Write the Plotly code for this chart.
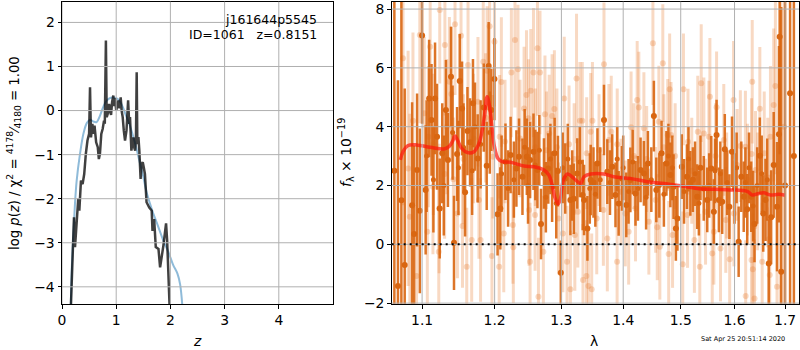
import plotly.graph_objects as go

# ---------------- left panel: log p(z) ----------------
pz_z = [0.16, 0.221, 0.24, 0.27, 0.30, 0.32, 0.35, 0.38, 0.41, 0.44,
        0.47, 0.50, 0.517, 0.535, 0.56, 0.58, 0.60, 0.63, 0.66, 0.68,
        0.70, 0.725, 0.75, 0.775, 0.79, 0.81, 0.825, 0.85, 0.87, 0.886,
        0.905, 0.925, 0.947, 0.965, 0.98, 1.0, 1.02, 1.04, 1.06, 1.083,
        1.1, 1.12, 1.14, 1.163, 1.19, 1.205, 1.22, 1.24, 1.255, 1.27,
        1.28, 1.30, 1.316, 1.335, 1.35, 1.365, 1.378, 1.39, 1.41, 1.427,
        1.45, 1.47, 1.49, 1.51, 1.53, 1.56, 1.61, 1.655, 1.67, 1.70,
        1.73, 1.78, 1.81, 1.87, 1.92, 1.94, 1.97, 1.99]
pz_log = [-4.6, -2.42, -3.1, -2.58, -2.0, -2.27, -1.59, -1.67, -1.44, -0.98,
          -0.68, -0.53, 0.53, -0.61, -0.3, -0.53, -0.34, -0.72, -0.83, -1.1,
          -0.98, -0.53, -0.42, -0.23, -0.3, 1.59, -0.15, -0.05, 0.15, 0.0,
          -0.1, 0.2, 0.34, 0.1, 0.28, 0.0, 0.15, 0.23, 0.05, 0.3,
          0.0, -0.15, -0.45, -0.68, -0.45, -0.1, 0.23, -0.3, -0.15, -0.61,
          -0.91, -0.7, -0.61, -0.85, -0.91, -0.6, 0.87, -0.76, -0.6, -0.91,
          -1.55, -1.21, -1.17, -1.3, -1.44, -2.08, -2.2, -2.27, -2.73, -2.46,
          -3.1, -3.14, -3.56, -3.07, -2.56, -2.95, -3.71, -4.6]

prior_z = [0.16, 0.18, 0.21, 0.24, 0.27, 0.33, 0.40, 0.46, 0.52, 0.58,
           0.64, 0.70, 0.76, 0.82, 0.90, 0.97, 1.04, 1.10, 1.17, 1.255,
           1.35, 1.44, 1.50, 1.56, 1.66, 1.75, 1.87, 1.96, 2.05, 2.13,
           2.18, 2.23]
prior_log = [-4.6, -3.6, -2.8, -2.1, -1.6, -1.0, -0.5, -0.28, -0.21, -0.25,
             -0.26, -0.12, 0.08, 0.22, 0.29, 0.29, 0.25, 0.14, -0.08, -0.35,
             -0.75, -1.2, -1.5, -1.85, -2.25, -2.55, -2.95, -3.2, -3.5, -3.7,
             -3.95, -4.6]

z_ticks = [0, 1, 2, 3, 4]
lnp_ticks = [-4, -3, -2, -1, 0, 1, 2]

# ---------------- right panel: spectrum ----------------
dark_wave = [1.0640, 1.0686, 1.0730, 1.0773, 1.0869, 1.0895, 1.0934, 1.0970, 1.1000, 1.1047, 1.1093,
             1.1125, 1.1172, 1.1199, 1.1235, 1.1269, 1.1319, 1.1346, 1.1388, 1.1429, 1.1471,
             1.1508, 1.1540, 1.1582, 1.1615, 1.1651, 1.1692, 1.1758, 1.1845, 1.1886, 1.1914,
             1.1952, 1.1997, 1.2042, 1.2082, 1.2157, 1.2232, 1.2317, 1.2356, 1.2407, 1.2472,
             1.2521, 1.2572, 1.2632, 1.2686, 1.2731, 1.2797, 1.2856, 1.2895, 1.2946, 1.2991,
             1.3060, 1.3141, 1.3195, 1.3250, 1.3336, 1.3358, 1.3412, 1.3465, 1.3510, 1.3574,
             1.3681, 1.3736, 1.3817, 1.3871, 1.3924, 1.3979, 1.4052, 1.4121, 1.4208, 1.4295,
             1.4352, 1.4421, 1.4525, 1.4567, 1.4659, 1.4745, 1.4815, 1.4872, 1.4913, 1.4941,
             1.5019, 1.5112, 1.5174, 1.5220, 1.5299, 1.5360, 1.5420, 1.5485, 1.5560, 1.5608,
             1.5659, 1.5702, 1.5765, 1.5814, 1.5901, 1.5951, 1.6079, 1.6130, 1.6177, 1.6245,
             1.6323, 1.6388, 1.6493, 1.6560, 1.6605, 1.6670, 1.6718, 1.6769, 1.6836, 1.6875,
             1.6890, 1.6921, 1.7000, 1.7102, 1.7180]
dark_flux = [2.5, -1.42, 1.5, -0.7, 1.33, 0.35, 2.53, 1.14, 7.1, 1.85, 4.96,
             4.23, 4.96, 3.66, 1.22, 3.1, 4.57, 2.87, 5.7, 0.05, 3.07,
             5.55, 4.62, 1.77, 3.85, 3.47, 4.8, 2.92, 4.65, 2.67, 6.06,
             4.57, 5.62, 1.02, 1.22, 2.81, 3.04, 2.58, 2.98, 2.3, 2.98,
             2.87, 3.15, 2.53, 0.69, 2.41, 2.58, 1.96, 3.1, 2.49, -0.97,
             2.24, 1.51, 1.55, 2.41, 1.68, 1.51, 0.54, 2.19, 2.1, 2.75,
             4.23, 2.47, 2.64, 1.68, 1.39, 2.24, 1.34, 2.19, 1.73, 2.53,
             2.41, 2.75, 4.36, 1.85, 3.1, 2.75, 2.36, 1.96, 0.54, 0.88,
             2.64, 2.3, 2.07, 2.2, 1.62, 2.6, 1.9, 1.51, 2.58, 1.11,
             3.72, 1.51, 1.45, 3.23, 1.28, 3.15, 0.09, 2.3, 1.62, 1.19,
             1.62, 0.69, 3.01, 1.05, 1.51, -0.65, 0.92, 2.7, 1.28, 3.74,
             7.06, -0.93, 2.0, 5.14, 3.0]
dark_err = [9.0, 7.0, 7.0, 6.0, 3.5, 3.0, 2.6, 2.8, 3.0, 2.2, 2.0,
            1.9, 1.9, 1.8, 1.7, 1.7, 1.7, 1.6, 1.7, 1.6, 1.6,
            1.6, 1.6, 1.5, 1.5, 1.5, 1.5, 1.5, 1.5, 1.5, 1.5,
            1.4, 1.4, 1.4, 1.4, 1.3, 1.3, 1.3, 1.3, 1.3, 1.3,
            1.3, 1.3, 1.3, 1.2, 1.2, 1.2, 1.2, 1.2, 1.2, 1.1,
            1.2, 1.2, 1.2, 1.2, 1.2, 1.2, 1.1, 1.2, 1.2, 1.2,
            1.2, 1.1, 1.1, 1.1, 1.1, 1.1, 1.1, 1.1, 1.1, 1.1,
            1.1, 1.1, 1.2, 1.1, 1.1, 1.1, 1.1, 1.1, 1.1, 1.1,
            1.1, 1.1, 1.1, 1.1, 1.1, 1.1, 1.1, 1.1, 1.1, 1.1,
            1.2, 1.1, 1.1, 1.2, 1.1, 1.2, 1.2, 1.2, 1.2, 1.2,
            1.2, 1.3, 1.3, 1.3, 1.4, 1.5, 1.6, 1.8, 2.2, 3.0,
            4.0, 9.0, 9.0, 9.0, 9.0]

# further dark bars whose markers are mostly hidden in the dense band
dark2_wave = [1.1060, 1.1150, 1.1290, 1.1410, 1.1490, 1.1560, 1.1680, 1.1720, 1.1800, 1.1930,
              1.2100, 1.2195, 1.2280, 1.2440, 1.2490, 1.2600, 1.2660, 1.2760, 1.2830, 1.2920,
              1.3020, 1.3100, 1.3170, 1.3290, 1.3450, 1.3540, 1.3620, 1.3780, 1.3900, 1.4000,
              1.4090, 1.4160, 1.4250, 1.4390, 1.4480, 1.4620, 1.4700, 1.4780, 1.4850, 1.5060,
              1.5140, 1.5260, 1.5330, 1.5520, 1.5630, 1.5730, 1.5860, 1.6000, 1.6040, 1.6210,
              1.6280, 1.6360, 1.6440, 1.6530, 1.6640]
dark2_flux = [3.0, 2.2, 2.0, 3.8, 2.6, 3.3, 2.5, 4.0, 3.4, 3.8,
              2.4, 1.9, 2.2, 3.3, 2.0, 2.7, 3.2, 1.6, 2.9, 1.4,
              2.6, 2.9, 2.0, 2.8, 1.9, 1.7, 2.2, 2.1, 2.9, 2.6,
              1.8, 2.8, 1.9, 1.6, 2.2, 2.0, 1.7, 3.0, 2.6, 1.8,
              2.9, 2.4, 1.4, 2.0, 2.5, 2.4, 2.1, 1.9, 2.6, 2.1,
              2.6, 1.3, 2.0, 2.4, 2.2]
dark2_err = [1.9, 1.8, 1.7, 1.6, 1.6, 1.5, 1.5, 1.5, 1.5, 1.4,
             1.3, 1.3, 1.3, 1.3, 1.3, 1.2, 1.2, 1.2, 1.2, 1.2,
             1.2, 1.2, 1.2, 1.2, 1.2, 1.1, 1.1, 1.1, 1.1, 1.1,
             1.1, 1.1, 1.1, 1.1, 1.1, 1.1, 1.1, 1.1, 1.1, 1.1,
             1.1, 1.1, 1.1, 1.1, 1.1, 1.1, 1.1, 1.2, 1.2, 1.2,
             1.2, 1.2, 1.3, 1.3, 1.4]

light_wave = [1.0751, 1.0817, 1.0839, 1.0880, 1.0927, 1.0970, 1.1028, 1.1069, 1.1083, 1.1107,
              1.1144, 1.1150, 1.1222, 1.1227, 1.1235, 1.1301, 1.1305, 1.1330, 1.1366, 1.1393,
              1.1421, 1.1443, 1.1476, 1.1526, 1.1546, 1.1560, 1.1605, 1.1623, 1.1674, 1.1700,
              1.1762, 1.1776, 1.1799, 1.1837, 1.1870, 1.1892, 1.1928, 1.1961, 1.1975, 1.1997,
              1.2065, 1.2072, 1.2097, 1.2132, 1.2150, 1.2243, 1.2266, 1.2272, 1.2296, 1.2341,
              1.2370, 1.2431, 1.2467, 1.2497, 1.2505, 1.2521, 1.2531, 1.2572, 1.2596, 1.2600,
              1.2632, 1.2647, 1.2671, 1.2722, 1.2746, 1.2770, 1.2811, 1.2856, 1.2891, 1.2930,
              1.2955, 1.3023, 1.3044, 1.3088, 1.3120, 1.3141, 1.3200, 1.3211, 1.3238, 1.3259,
              1.3292, 1.3330, 1.3341, 1.3396, 1.3400, 1.3428, 1.3465, 1.3481, 1.3493, 1.3563,
              1.3600, 1.3671, 1.3681, 1.3736, 1.3762, 1.3801, 1.3898, 1.3900, 1.3963, 1.4035,
              1.4092, 1.4133, 1.4180, 1.4208, 1.4237, 1.4265, 1.4352, 1.4400, 1.4438, 1.4508,
              1.4555, 1.4584, 1.4612, 1.4629, 1.4681, 1.4700, 1.4768, 1.4785, 1.4802, 1.4827,
              1.4854, 1.4900, 1.5037, 1.5049, 1.5123, 1.5131, 1.5200, 1.5248, 1.5310, 1.5347,
              1.5373, 1.5422, 1.5453, 1.5515, 1.5534, 1.5578, 1.5608, 1.5640, 1.5659, 1.5733,
              1.5795, 1.5833, 1.5850, 1.5907, 1.5981, 1.5988, 1.6050, 1.6112, 1.6210, 1.6215,
              1.6250, 1.6329, 1.6330, 1.6343, 1.6355, 1.6388, 1.6408, 1.6450, 1.6493, 1.6539,
              1.6580, 1.6650, 1.6674, 1.6690, 1.6704, 1.6769, 1.6803, 1.6836, 1.6905, 1.6980]
light_flux = [6.33, 2.58, 0.94, 4.2, -1.08, 7.12, 4.46, 0.43, 3.66, 6.72,
              1.96, 3.4, -0.25, 1.22, 7.97, 2.39, 6.78, 4.0, 5.53, 5.11,
              2.21, 7.48, 1.05, 7.09, 0.62, 2.9, -0.76, 6.1, 0.15, 3.6,
              4.85, 1.51, 0.15, 6.21, 4.3, 5.9, 7.42, -0.4, 2.98, 6.89,
              -0.76, 3.66, 5.52, 0.37, 3.5, 5.84, 0.66, -0.1, 6.95, 5.95,
              3.6, 4.62, 5.08, 4.29, 1.17, -0.59, 5.22, 5.84, 1.0, 3.3,
              6.67, -1.78, 5.84, -0.25, 4.42, 3.2, 3.77, 4.36, 4.6, 3.3,
              0.88, 0.37, 4.96, -0.59, 3.4, -1.53, 2.9, 0.32, 5.64, 1.11,
              4.2, 4.2, -1.21, -1.08, 3.1, -1.42, 3.83, -1.53, 4.2, 0.88,
              3.2, 1.17, 6.12, 0.2, 3.55, 3.83, -0.59, 3.4, 1.79, 1.05,
              0.43, 3.98, 3.0, 1.22, 4.91, 4.65, 3.95, 2.9, 0.77, 6.84,
              1.51, 0.58, 4.17, -0.08, 6.16, 3.3, 3.72, -0.33, 5.27, 3.72,
              0.32, 3.0, -0.68, 5.27, 1.0, 3.49, 2.5, 0.15, 3.83, -0.76,
              5.48, 3.77, 1.11, 3.66, 5.02, -0.31, 0.43, 3.0, 4.66, -0.14,
              3.55, 0.83, 2.0, -0.51, 4.91, 1.05, 2.7, 3.34, 3.32, -1.76,
              2.2, -0.53, 3.07, 5.53, -0.85, -1.84, 2.53, 1.8, 4.61, -0.59,
              3.1, 2.1, 0.17, -1.04, 3.66, 4.74, 5.38, -1.44, 2.0, 4.0]
light_err = [5.0, 4.0, 3.5, 3.0, 3.0, 3.0, 2.6, 2.5, 2.4, 2.6,
             2.3, 2.4, 2.3, 2.2, 2.5, 2.2, 2.4, 2.3, 2.2, 2.3,
             2.1, 2.4, 2.2, 2.3, 2.1, 2.2, 2.0, 2.3, 2.1, 2.2,
             2.2, 2.0, 2.1, 2.3, 2.2, 2.2, 2.4, 2.0, 2.1, 2.2,
             2.0, 2.1, 2.2, 2.0, 2.1, 2.2, 2.0, 1.9, 2.3, 2.2,
             2.0, 2.1, 2.2, 2.0, 1.9, 2.0, 2.1, 2.2, 1.9, 2.0,
             2.3, 2.0, 2.1, 1.9, 2.0, 2.0, 2.0, 2.1, 2.0, 2.0,
             1.9, 2.0, 2.1, 1.9, 2.0, 2.0, 1.9, 1.9, 2.2, 1.9,
             2.0, 2.0, 1.9, 1.9, 1.9, 2.0, 2.0, 1.9, 2.0, 1.9,
             1.9, 1.9, 2.1, 1.8, 1.9, 1.9, 1.8, 1.9, 1.8, 1.8,
             1.8, 1.9, 1.8, 1.8, 2.0, 1.9, 1.9, 1.8, 1.8, 2.1,
             1.8, 1.8, 1.9, 1.8, 2.0, 1.8, 1.9, 1.8, 1.9, 1.8,
             1.8, 1.8, 1.8, 1.9, 1.8, 1.8, 1.8, 1.8, 1.9, 1.8,
             2.0, 1.9, 1.8, 1.9, 2.0, 1.8, 1.8, 1.8, 1.9, 1.8,
             1.9, 1.8, 1.8, 1.8, 2.0, 1.8, 1.9, 1.9, 1.9, 1.9,
             1.9, 1.9, 1.9, 2.1, 1.9, 2.0, 2.0, 2.0, 2.1, 2.0,
             2.1, 2.2, 2.2, 2.3, 2.4, 2.6, 3.0, 3.5, 7.0, 8.0]

model_wave = [1.0717, 1.0751, 1.0817, 1.0927, 1.1107, 1.1291, 1.1360, 1.1407, 1.1443, 1.1476,
              1.1532, 1.1615, 1.1706, 1.1776, 1.1823, 1.1859, 1.1892, 1.1928, 1.1961, 1.1997,
              1.2048, 1.2108, 1.2232, 1.2431, 1.2581, 1.2731, 1.2805, 1.2856, 1.2895, 1.2946,
              1.2980, 1.3032, 1.3097, 1.3195, 1.3303, 1.3357, 1.3465, 1.3681, 1.3843, 1.4121,
              1.4411, 1.4699, 1.4988, 1.5299, 1.5608, 1.5920, 1.6245, 1.6343, 1.6474, 1.6572,
              1.6704, 1.6868, 1.7000]
model_flux = [2.87, 3.15, 3.36, 3.38, 3.30, 3.24, 3.32, 3.49, 3.68, 3.55,
              3.27, 3.12, 3.15, 3.43, 3.89, 4.46, 5.02, 4.68, 4.00, 3.32,
              2.92, 2.81, 2.79, 2.66, 2.64, 2.53, 2.36, 2.02, 1.62, 1.37,
              1.51, 2.19, 2.39, 2.24, 2.07, 2.30, 2.39, 2.39, 2.30, 2.24,
              2.13, 2.07, 1.99, 1.90, 1.87, 1.85, 1.80, 1.68, 1.73, 1.75,
              1.68, 1.70, 1.67]

wave_ticks = [1.1, 1.2, 1.3, 1.4, 1.5, 1.6, 1.7]
flux_ticks = [-2, 0, 2, 4, 6, 8]

FONT = "DejaVu Sans"
DARK = "rgb(217,102,17)"
DARK_BAR = "rgba(217,102,17,0.9)"
LIGHT = "rgba(230,120,40,0.28)"
GRID = "#b0b0b0"

fig = go.Figure()

# left panel
fig.add_trace(go.Scatter(x=prior_z, y=prior_log, mode="lines", line_shape="spline",
                         line=dict(color="rgba(31,119,180,0.5)", width=2),
                         xaxis="x", yaxis="y", showlegend=False))
fig.add_trace(go.Scatter(x=pz_z, y=pz_log, mode="lines",
                         line=dict(color="rgba(0,0,0,0.75)", width=2.5),
                         xaxis="x", yaxis="y", showlegend=False))

# right panel
fig.add_trace(go.Scatter(x=light_wave, y=light_flux, mode="markers",
                         marker=dict(color=LIGHT, size=6, line=dict(width=0)),
                         error_y=dict(type="data", array=light_err, color=LIGHT,
                                      thickness=3, width=0),
                         xaxis="x2", yaxis="y2", showlegend=False))
fig.add_trace(go.Scatter(x=dark2_wave, y=dark2_flux, mode="markers",
                         marker=dict(color=DARK, size=5, line=dict(width=0)),
                         error_y=dict(type="data", array=dark2_err, color=DARK_BAR,
                                      thickness=2.5, width=0),
                         xaxis="x2", yaxis="y2", showlegend=False))
fig.add_trace(go.Scatter(x=dark_wave, y=dark_flux, mode="markers",
                         marker=dict(color=DARK, size=6, line=dict(width=0)),
                         error_y=dict(type="data", array=dark_err, color=DARK_BAR,
                                      thickness=2.5, width=0),
                         xaxis="x2", yaxis="y2", showlegend=False))
fig.add_trace(go.Scatter(x=model_wave, y=model_flux, mode="lines", line_shape="spline",
                         line=dict(color="rgba(255,20,10,0.7)", width=3.5),
                         xaxis="x2", yaxis="y2", showlegend=False))

# grid drawn above the data, as in the reference
shapes = []
for t in z_ticks:
    shapes.append(dict(type="line", xref="x", yref="y domain", x0=t, x1=t, y0=0, y1=1,
                       line=dict(color=GRID, width=1), layer="above"))
for t in lnp_ticks:
    shapes.append(dict(type="line", xref="x domain", yref="y", x0=0, x1=1, y0=t, y1=t,
                       line=dict(color=GRID, width=1), layer="above"))
for t in wave_ticks:
    shapes.append(dict(type="line", xref="x2", yref="y2 domain", x0=t, x1=t, y0=0, y1=1,
                       line=dict(color=GRID, width=1), layer="above"))
for t in flux_ticks:
    shapes.append(dict(type="line", xref="x2 domain", yref="y2", x0=0, x1=1, y0=t, y1=t,
                       line=dict(color=GRID, width=1), layer="above"))
shapes.append(dict(type="line", xref="x2 domain", yref="y2", x0=0, x1=1, y0=0, y1=0,
                   line=dict(color="black", width=2, dash="2px,4px"), layer="above"))

axis_common = dict(showline=True, mirror=True, linecolor="black", linewidth=1,
                   ticks="outside", ticklen=3.5, tickwidth=1, tickcolor="black",
                   showgrid=False, zeroline=False, automargin=False,
                   tickfont=dict(family=FONT, size=13.9, color="black"))

fig.update_layout(
    width=800, height=350,
    margin=dict(l=0, r=0, t=0, b=0, pad=0, autoexpand=False),
    paper_bgcolor="white", plot_bgcolor="white",
    font=dict(family=FONT, color="black"),
    shapes=shapes,
    xaxis=dict(domain=[0.0775, 0.41625], range=[0, 5], tickvals=z_ticks,
               anchor="y", **axis_common),
    yaxis=dict(domain=[0.1314, 0.9951], range=[-4.39, 2.47], tickvals=lnp_ticks,
               anchor="x", **axis_common),
    xaxis2=dict(domain=[0.4896, 0.99875], type="log", range=[0.02555, 0.23769],
                tickvals=wave_ticks, ticktext=[str(v) for v in wave_ticks],
                anchor="y2", **axis_common),
    yaxis2=dict(domain=[0.1314, 0.9951], range=[-2.03, 8.25], tickvals=flux_ticks,
                anchor="x2", **axis_common),
    annotations=[
        dict(text="j161644p5545", xref="paper", yref="paper", x=0.39875, y=0.943,
             xanchor="right", yanchor="middle", showarrow=False,
             font=dict(family=FONT, size=12.5)),
        dict(text="ID=1061   z=0.8151", xref="paper", yref="paper", x=0.39875, y=0.900,
             xanchor="right", yanchor="middle", showarrow=False,
             font=dict(family=FONT, size=12.5)),
        dict(text="<i>z</i>", xref="paper", yref="paper", x=197/800, y=1-341/350,
             xanchor="center", yanchor="middle", showarrow=False,
             font=dict(family=FONT, size=13.9)),
        dict(text="λ", xref="paper", yref="paper", x=594/800, y=1-341/350,
             xanchor="center", yanchor="middle", showarrow=False,
             font=dict(family=FONT, size=13.9)),
        dict(text="log <i>p</i>(<i>z</i>) / χ<sup>2</sup> = <sup>4178</sup>⁄<sub>4180</sub> = 1.00",
             xref="paper", yref="paper", x=13/800, y=1-153/350, textangle=-90,
             xanchor="center", yanchor="middle", showarrow=False,
             font=dict(family=FONT, size=13.2)),
        dict(text="<i>f</i><sub>λ</sub> × 10<sup>−19</sup>",
             xref="paper", yref="paper", x=346/800, y=1-153/350, textangle=-90,
             xanchor="center", yanchor="middle", showarrow=False,
             font=dict(family=FONT, size=13.9)),
        dict(text="Sat Apr 25 20:51:14 2020", xref="paper", yref="paper",
             x=743/800, y=1-339/350, xanchor="center", yanchor="middle", showarrow=False,
             font=dict(family=FONT, size=6.5)),
    ],
)

# remove the browser's default page margin so the 800x350 figure fills the window
fig.write_html("out.html",
               config={"displayModeBar": False},
               post_script="document.body.style.margin='0';document.body.style.padding='0';"
                           "document.body.style.overflow='hidden';")
